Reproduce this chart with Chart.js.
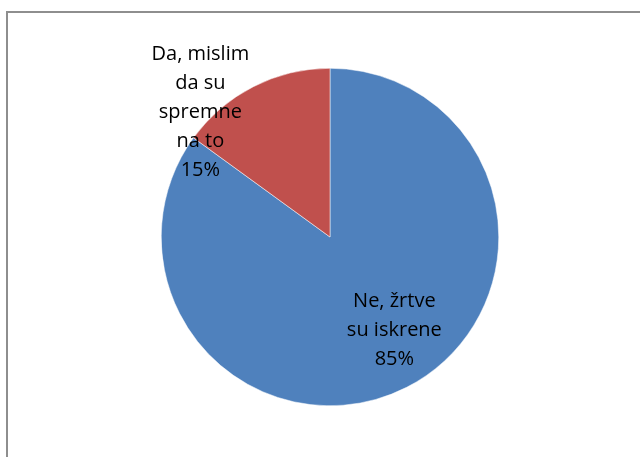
<!DOCTYPE html>
<html>
<head>
<meta charset="utf-8">
<script src="https://cdn.jsdelivr.net/npm/chart.js@4/dist/chart.umd.min.js"></script>
<style>
  html, body { margin: 0; padding: 0; background: #fff; width: 640px; height: 457px; overflow: hidden; }
  #frame { position: absolute; left: 6px; top: 11px; width: 660px; height: 470px; border: 2px solid #8e8e8e; box-sizing: border-box; }
  #wrap { position: absolute; left: 0; top: 0; width: 640px; height: 457px; }
</style>
</head>
<body>
<div id="frame"></div>
<div id="wrap"><canvas id="c" width="640" height="457"></canvas></div>
<script>
const categories = [
  ["Ne, žrtve", "su iskrene"],
  ["Da, mislim", "da su", "spremne", "na to"]
];
const values = [85, 15];
const colors = ["#4F81BD", "#C0504D"];

const labelPlugin = {
  id: 'sliceLabels',
  afterDatasetsDraw(chart, args, opts) {
    const ctx = chart.ctx;
    const meta = chart.getDatasetMeta(0);
    const total = values.reduce((a, b) => a + b, 0);
    ctx.save();
    ctx.font = opts.font;
    ctx.fillStyle = '#000';
    ctx.textAlign = 'center';
    ctx.textBaseline = 'middle';
    meta.data.forEach((arc, i) => {
      const p = arc.getProps(['x', 'y', 'startAngle', 'endAngle', 'outerRadius'], true);
      const a = (p.startAngle + p.endAngle) / 2 + opts.anchors[i].shift * Math.PI / 180;
      const r = p.outerRadius * opts.anchors[i].factor;
      const cx = p.x + Math.cos(a) * r;
      const cy = p.y + Math.sin(a) * r;
      const lines = categories[i].concat([Math.round(values[i] / total * 100) + '%']);
      const lh = opts.lineHeight;
      const y0 = cy - (lines.length - 1) * lh / 2;
      lines.forEach((t, k) => ctx.fillText(t, cx, y0 + k * lh));
    });
    ctx.restore();
  }
};

new Chart(document.getElementById('c'), {
  type: 'pie',
  data: {
    labels: categories.map(c => c.join(' ')),
    datasets: [{
      data: values,
      backgroundColor: colors,
      borderColor: '#ffffff',
      borderWidth: 0.5
    }]
  },
  options: {
    responsive: false,
    animation: false,
    rotation: 0,
    layout: { padding: { top: 68, bottom: 51, left: 20, right: 0 } },
    plugins: {
      legend: { display: false },
      tooltip: { enabled: false },
      title: { display: false },
      sliceLabels: {
        font: '20px "Open Sans"',
        lineHeight: 29,
        anchors: [ { shift: -7.7, factor: 0.67 }, { shift: -19.1, factor: 1.066 } ]
      }
    }
  },
  plugins: [labelPlugin]
});
</script>
</body>
</html>
